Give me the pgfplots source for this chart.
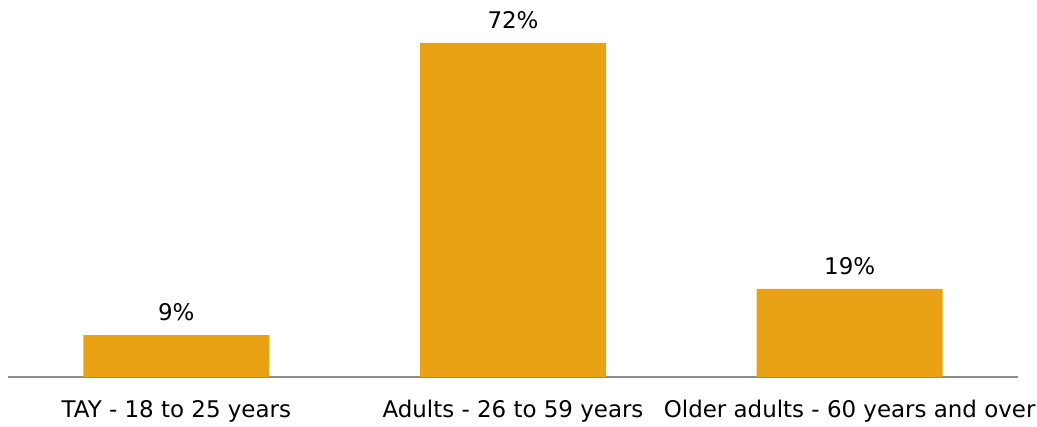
\documentclass[border=0pt]{standalone}
\usepackage{pgfplots}
\pgfplotsset{compat=1.18}
\usepackage{fontspec}
\setmainfont{DejaVu Sans}
\definecolor{barorange}{HTML}{E8A213}
\definecolor{axisgray}{HTML}{8C8C8C}
\begin{document}
\begin{tikzpicture}
\begin{axis}[
  scale only axis,
  width=757.5pt, height=282.75pt,
  xmin=-0.5, xmax=2.5,
  ymin=0, ymax=81.27,
  axis y line=none,
  axis x line*=bottom,
  x axis line style={draw=axisgray, line width=1.3pt, -},
  xtick=data,
  xticklabels={TAY - 18 to 25 years, Adults - 26 to 59 years, Older adults - 60 years and over},
  major tick length=0pt,
  xticklabel style={font=\fontsize{17.2}{20}\selectfont, text=black, anchor=center, yshift=-25.8pt},
  ybar, bar width=139.5pt, bar shift=0pt,
  /pgf/number format/assume math mode=true,
  nodes near coords={\pgfmathprintnumber{\pgfplotspointmeta}\%},
  nodes near coords style={font=\fontsize{17.2}{20}\selectfont, text=black, anchor=center, yshift=17pt},
  clip=false,
]
\addplot[fill=barorange, draw=none] coordinates {(0,9) (1,72) (2,19)};
\end{axis}
\pgfresetboundingbox
\path (-6pt,-37.5pt) rectangle (771.75pt,282.75pt);
\end{tikzpicture}
\end{document}
